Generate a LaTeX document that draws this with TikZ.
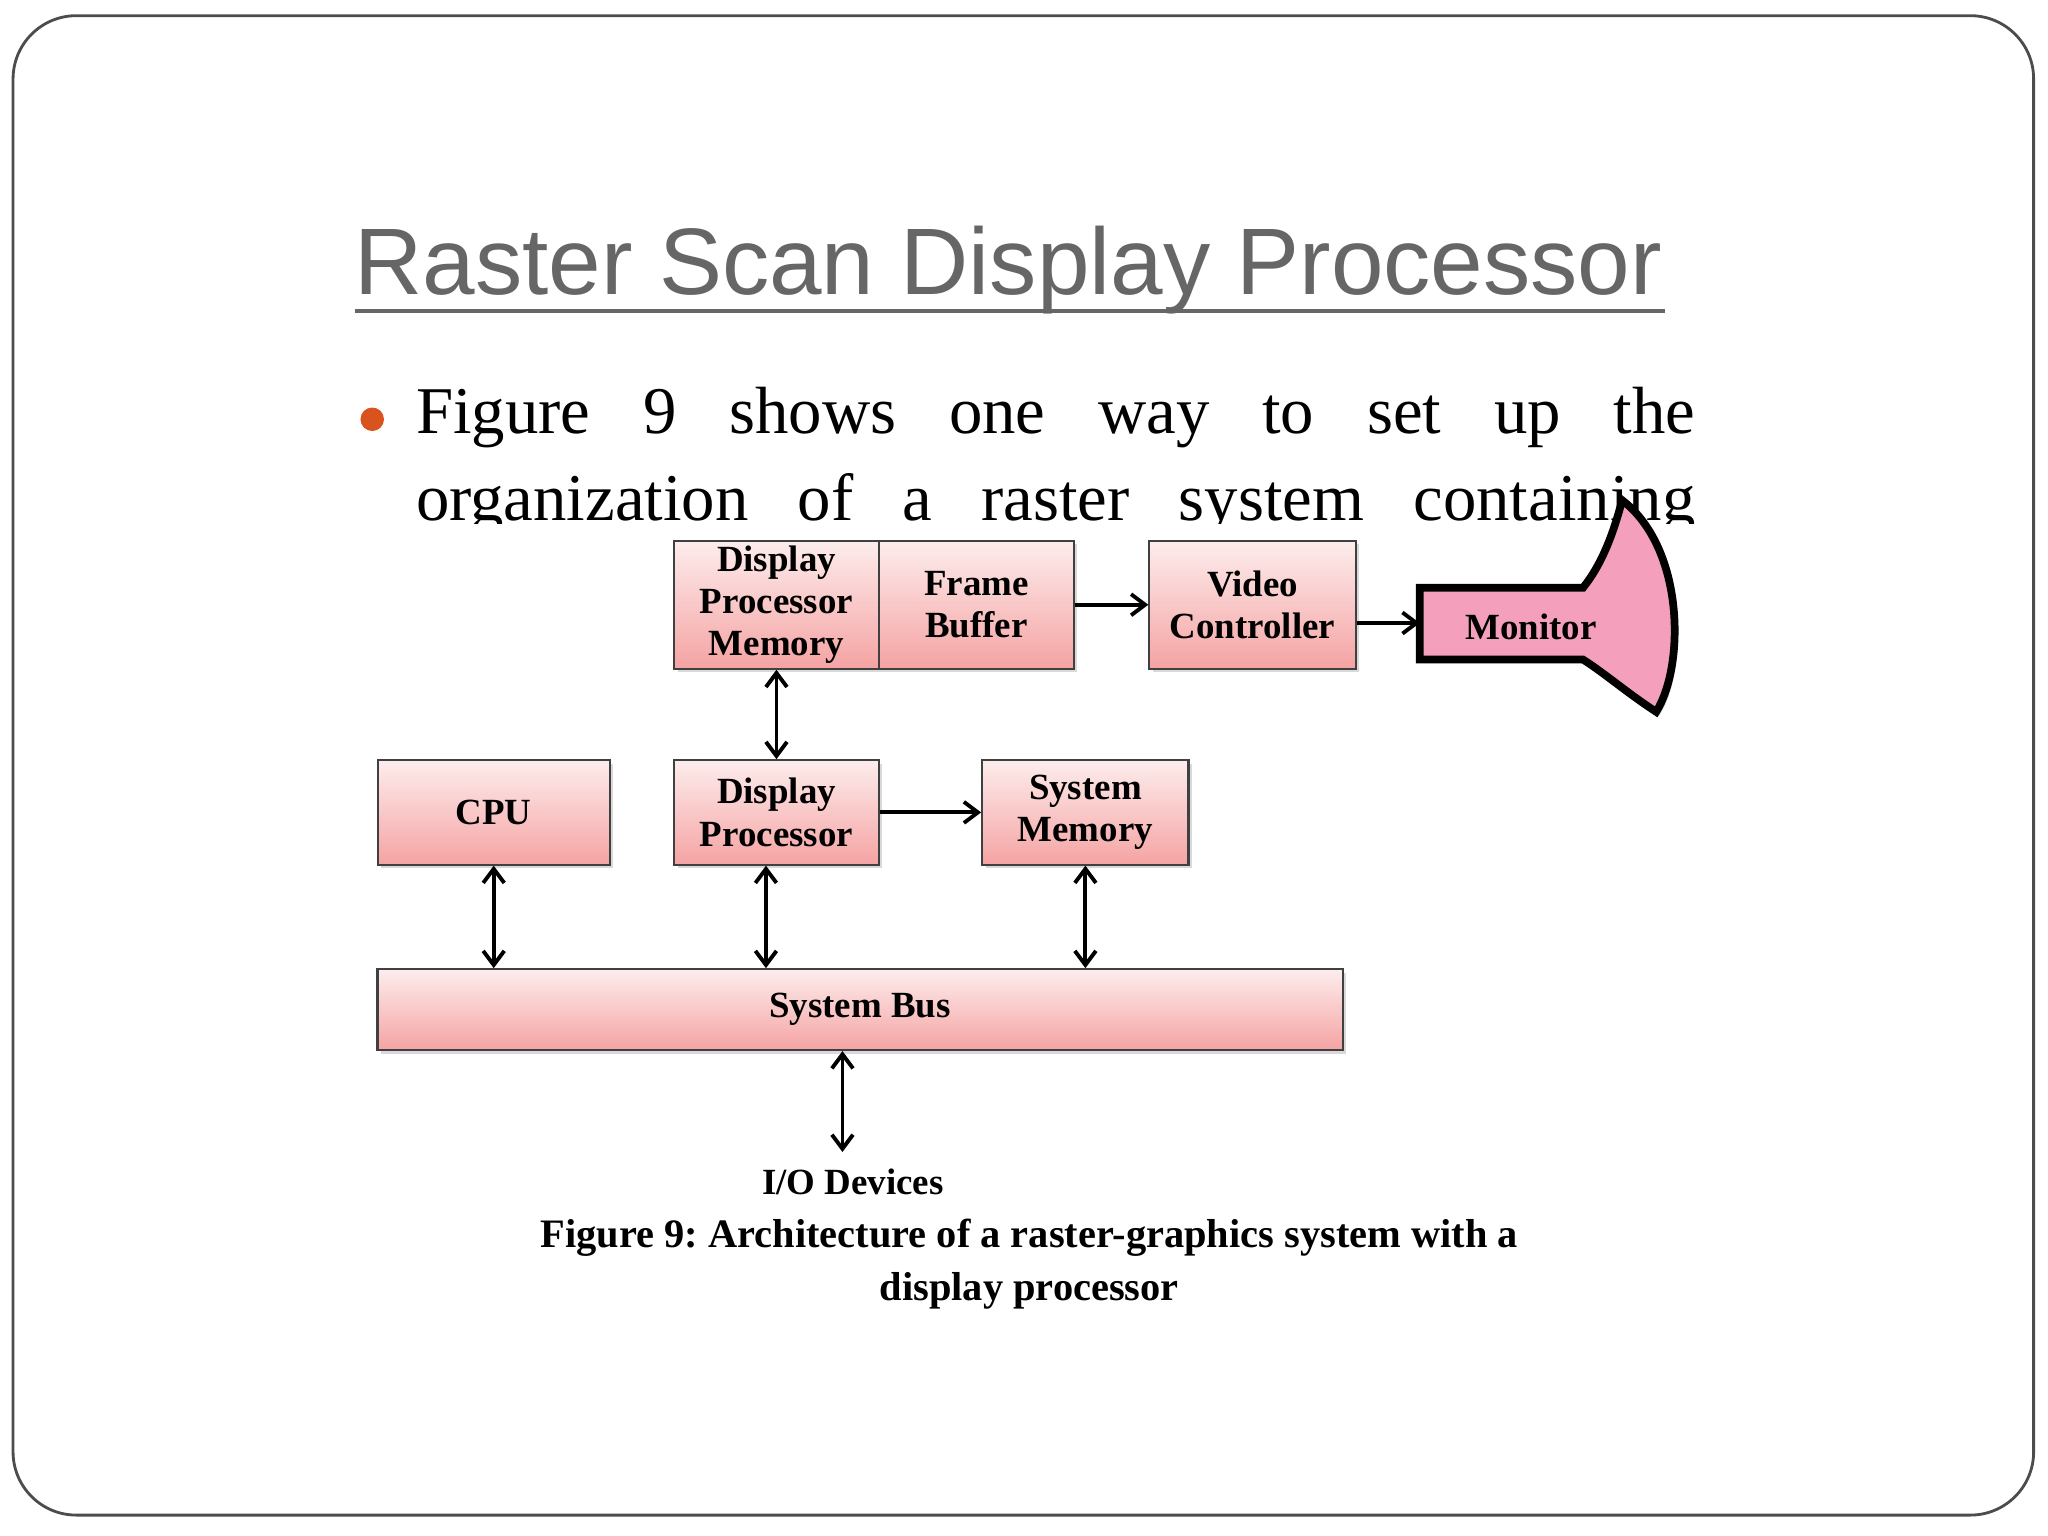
\documentclass[tikz,border=0pt]{standalone}
\usepackage{fontspec}
\setmainfont{Liberation Serif}
\newfontfamily\titlefont{Liberation Sans}
\usetikzlibrary{arrows.meta,shadows}
\definecolor{titlegray}{HTML}{666666}
\definecolor{boxpink}{HTML}{F5A3A3}
\definecolor{monpink}{HTML}{F4A0BC}
\definecolor{bulletred}{HTML}{D9531E}
\frenchspacing
\begin{document}
\begin{tikzpicture}[x=0.01306cm,y=-0.01306cm,
    blk/.style={draw=black!75, line width=0.6pt, top color=white!80!boxpink, bottom color=boxpink,
      align=center, inner sep=0pt, font=\fontsize{10.5}{12}\selectfont\bfseries,
      drop shadow={opacity=0.3,shadow xshift=1pt,shadow yshift=-1pt}},
    arr/.style={-{Straight Barb[length=4pt,width=6pt]}, line width=1.1pt},
    darr/.style={{Straight Barb[length=4pt,width=6pt]}-{Straight Barb[length=4pt,width=6pt]}, line width=1.1pt}]
\useasboundingbox (0,0) rectangle (1568,1176);
\draw[black!70, line width=0.8pt, rounded corners=18pt] (10,12) rectangle (1557,1160);

% title
\node[text=titlegray, inner sep=0pt] (title) at (772,207)
  {\resizebox{372pt}{!}{\titlefont\fontsize{31}{36}\selectfont Raster Scan Display Processor}};
\draw[titlegray, line width=1.2pt] (272,238) -- (1275,238);

% bullet text
\fill[bulletred] (285,321) circle (9);
\node[anchor=west, inner sep=0pt] (line1) at (318,320)
  {\fontsize{19}{22}\selectfont\makebox[364pt][s]{Figure 9 shows one way to set up the}};
\begin{scope}
  \clip (300,340) rectangle (1310,401);
  \node[anchor=west, inner sep=0pt] (line2) at (318,386)
    {\fontsize{19}{22}\selectfont\makebox[364pt][s]{organization of a raster system containing}};
\end{scope}

% blocks (sizes in pt: 1 px = 0.3716pt)
\node[blk, minimum width=58.3pt, minimum height=36.4pt] (dpm) at (594.5,463) {Display\\Processor\\Memory};
\node[blk, minimum width=55.4pt, minimum height=36.4pt] (fb) at (747.5,463) {Frame\\Buffer};
\node[blk, minimum width=58.7pt, minimum height=36.4pt] (vc) at (959,463) {Video\\Controller};
\node[blk, minimum width=66.1pt, minimum height=29.7pt] (cpu) at (378,622) {CPU};
\node[blk, minimum width=58.3pt, minimum height=29.7pt] (dp) at (594.5,622) {Display\\Processor};
\node[blk, minimum width=58.7pt, minimum height=29.7pt] (sm) at (831,622) {System\\Memory};
\node[blk, minimum width=274.6pt, minimum height=23pt] (bus) at (658.5,773) {System Bus};
\node[font=\fontsize{10.5}{12}\selectfont\bfseries, inner sep=1pt] (io) at (653,905) {I/O Devices};

% monitor
\draw[fill=monpink, line width=2.2pt, drop shadow={opacity=0.3,shadow xshift=1pt,shadow yshift=-1pt}]
  (1087,450) -- (1212,450) .. controls (1228,430) and (1236,405) .. (1242,383)
  .. controls (1290,420) and (1290,510) .. (1268,545)
  .. controls (1245,530) and (1228,515) .. (1212,505) -- (1087,505) -- cycle;
\node[font=\fontsize{10.5}{12}\selectfont\bfseries] (mon) at (1172,480) {Monitor};

% connectors
\draw[arr] (fb.east) -- (vc.west);
\coordinate (monin) at (1087,477);
\draw[arr] (vc.east |- monin) -- (monin);
\draw[darr] (dpm.south) -- (dp.north);
\draw[arr] (dp.east) -- (sm.west);
\draw[darr] (cpu.south) -- (cpu.south |- bus.north);
\draw[darr] ([xshift=-3pt]dp.south) -- ([xshift=-3pt]dp.south |- bus.north);
\draw[darr] (sm.south) -- (sm.south |- bus.north);
\coordinate (iotop) at (645,882);
\draw[darr] (bus.south -| iotop) -- (iotop);

% caption
\node[font=\fontsize{11.5}{15}\selectfont\bfseries, align=center] (cap) at (788,968)
  {Figure 9: Architecture of a raster-graphics system with a\\display processor};
\end{tikzpicture}
\end{document}
